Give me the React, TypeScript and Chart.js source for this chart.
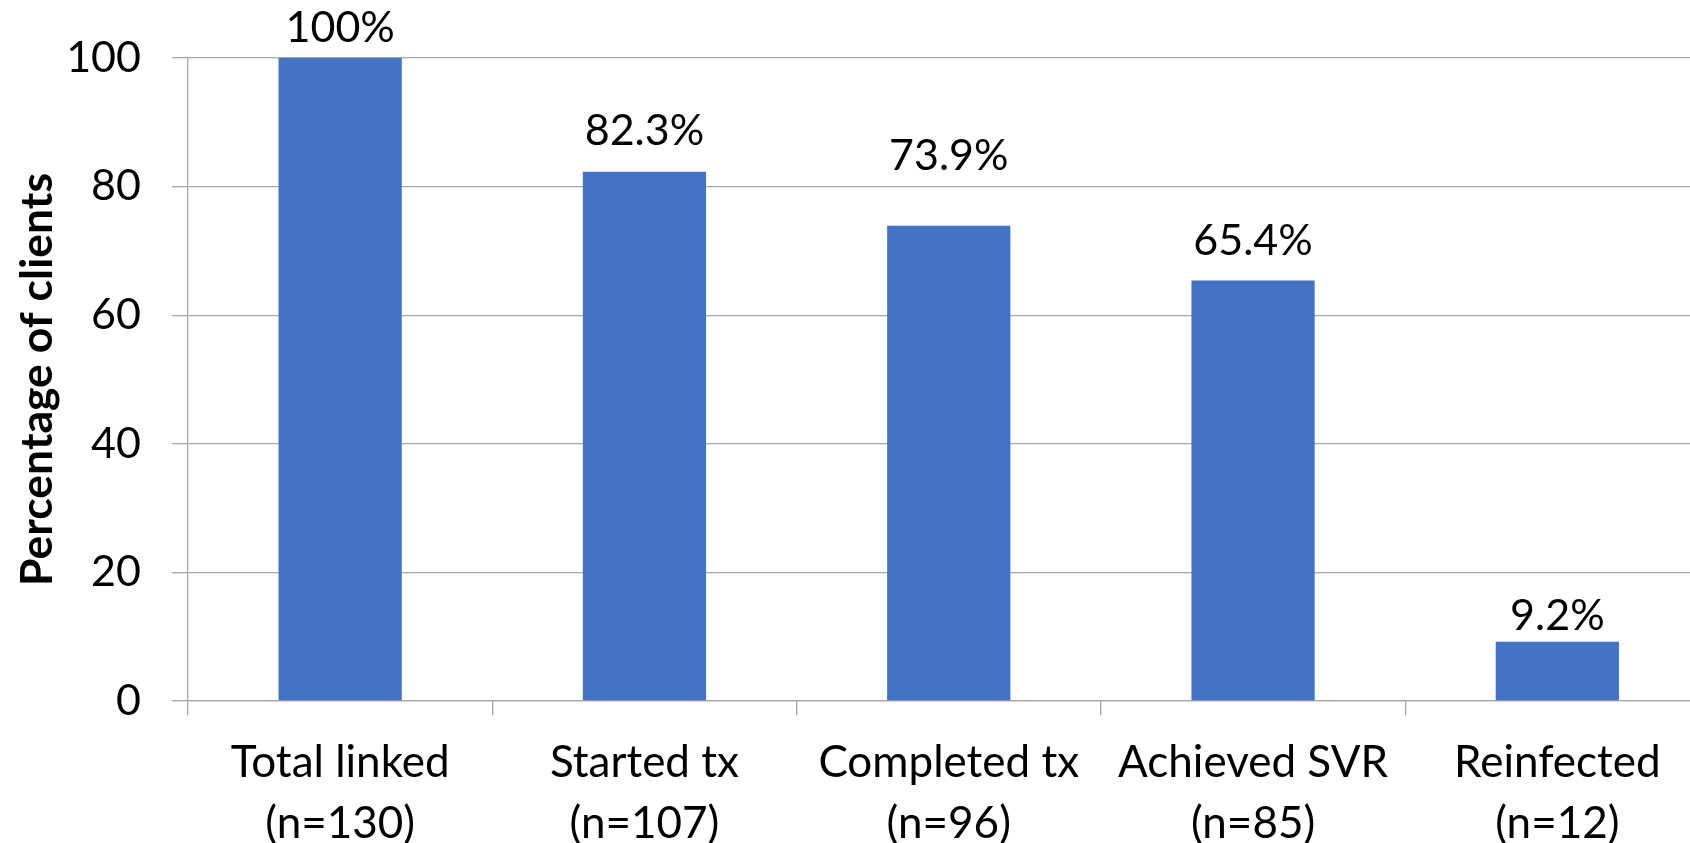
import React, { useEffect, useRef } from "react";
import { Chart, registerables } from "chart.js";

Chart.register(...registerables);

const CATEGORIES: string[][] = [
  ["Total linked", "(n=130)"],
  ["Started tx", "(n=107)"],
  ["Completed tx", "(n=96)"],
  ["Achieved SVR", "(n=85)"],
  ["Reinfected", "(n=12)"],
];
const PERCENTAGES: number[] = [100, 82.3, 73.9, 65.4, 9.2];
const Y_TICKS: number[] = [0, 20, 40, 60, 80, 100];
const Y_TITLE = "Percentage of clients";

// style: gap (px) between each value label baseline and its bar top
const LABEL_GAPS: number[] = [16, 27, 56, 25, 12];

const FONT = "Lato";
const GRID = "#a6a6a6";
const BAR = "#4472C4";

const valueLabelPlugin = {
  id: "valueLabels",
  afterDatasetsDraw(chart: any) {
    const ctx = chart.ctx;
    const meta = chart.getDatasetMeta(0);
    ctx.save();
    ctx.font = `normal 43px ${FONT}`;
    ctx.fillStyle = "#000";
    ctx.textAlign = "center";
    ctx.textBaseline = "alphabetic";
    meta.data.forEach((bar: any, i: number) => {
      ctx.fillText(`${PERCENTAGES[i]}%`, bar.x, bar.y - LABEL_GAPS[i]);
    });
    ctx.restore();
  },
};

export default function App() {
  const ref = useRef<HTMLCanvasElement | null>(null);

  useEffect(() => {
    if (!ref.current) return;
    const chart = new Chart(ref.current, {
      type: "bar",
      data: {
        labels: CATEGORIES,
        datasets: [
          {
            data: PERCENTAGES,
            backgroundColor: BAR,
            borderWidth: 0,
            categoryPercentage: 1,
            barPercentage: 0.405,
          },
        ],
      },
      options: {
        animation: false,
        responsive: false,
        layout: { padding: { left: 0, top: 58, right: 2.5, bottom: 0 } },
        plugins: {
          legend: { display: false },
          tooltip: { enabled: false },
        },
        scales: {
          x: {
            grid: {
              display: true,
              drawOnChartArea: false,
              drawTicks: true,
              tickLength: 14,
              color: GRID,
              lineWidth: 1.3,
              offset: true,
            },
            border: { display: true, color: GRID, width: 1.3 },
            ticks: {
              color: "#000",
              padding: 17,
              maxRotation: 0,
              autoSkip: false,
              font: { family: FONT, size: 44, lineHeight: 1.386 },
            },
            afterFit: (s: any) => {
              s.height = 142;
            },
          },
          y: {
            min: 0,
            max: 100,
            afterBuildTicks: (s: any) => {
              s.ticks = Y_TICKS.map((v) => ({ value: v }));
            },
            grid: {
              color: GRID,
              lineWidth: 1.3,
              drawTicks: true,
              tickLength: 16,
            },
            border: { display: true, color: GRID, width: 1.3 },
            ticks: {
              color: "#000",
              padding: 31,
              font: { family: FONT, size: 43 },
            },
            title: {
              display: true,
              text: Y_TITLE,
              color: "#000",
              padding: { top: 11, bottom: 0 },
              font: { family: FONT, size: 44.5, weight: "bold", lineHeight: 1.2 },
            },
            afterFit: (s: any) => {
              s.width = 188;
            },
          },
        },
      },
      plugins: [valueLabelPlugin],
    });
    return () => chart.destroy();
  }, []);

  return (
    <div style={{ position: "fixed", left: 0, top: 0, width: 1690, height: 843, overflow: "hidden", background: "#fff" }}>
      <canvas ref={ref} width={1712} height={843} style={{ display: "block" }} />
    </div>
  );
}
